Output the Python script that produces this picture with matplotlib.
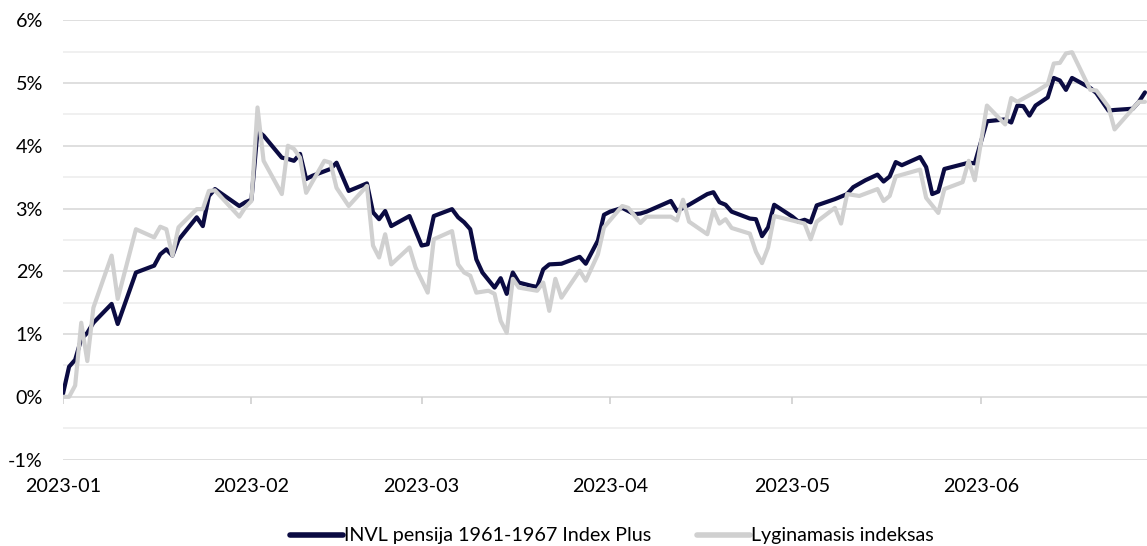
import matplotlib
matplotlib.use("Agg")
import matplotlib.pyplot as plt
import pandas as pd
from matplotlib.ticker import MultipleLocator, FuncFormatter

# ---- data (cumulative return, %) ----
fund_dates = [
    "2023-01-01", "2023-01-02", "2023-01-03", "2023-01-04", "2023-01-05", "2023-01-06",
    "2023-01-09", "2023-01-10", "2023-01-13", "2023-01-16", "2023-01-17", "2023-01-18",
    "2023-01-19", "2023-01-20", "2023-01-23", "2023-01-24", "2023-01-25", "2023-01-26",
    "2023-01-30", "2023-01-31", "2023-02-01", "2023-02-02", "2023-02-03", "2023-02-06",
    "2023-02-07", "2023-02-08", "2023-02-09", "2023-02-10", "2023-02-11", "2023-02-14",
    "2023-02-15", "2023-02-17", "2023-02-20", "2023-02-21", "2023-02-22", "2023-02-23",
    "2023-02-24", "2023-02-27", "2023-03-01", "2023-03-02", "2023-03-03", "2023-03-06",
    "2023-03-07", "2023-03-08", "2023-03-09", "2023-03-10", "2023-03-11", "2023-03-13",
    "2023-03-14", "2023-03-15", "2023-03-16", "2023-03-17", "2023-03-19", "2023-03-20",
    "2023-03-21", "2023-03-22", "2023-03-24", "2023-03-27", "2023-03-28", "2023-03-30",
    "2023-03-31", "2023-04-01", "2023-04-03", "2023-04-05", "2023-04-06", "2023-04-07",
    "2023-04-11", "2023-04-12", "2023-04-14", "2023-04-17", "2023-04-18", "2023-04-19",
    "2023-04-20", "2023-04-21", "2023-04-24", "2023-04-25", "2023-04-26", "2023-04-27",
    "2023-04-28", "2023-05-01", "2023-05-02", "2023-05-03", "2023-05-04", "2023-05-05",
    "2023-05-08", "2023-05-10", "2023-05-11", "2023-05-13", "2023-05-15", "2023-05-16",
    "2023-05-17", "2023-05-18", "2023-05-19", "2023-05-22", "2023-05-23", "2023-05-24",
    "2023-05-25", "2023-05-26", "2023-05-30", "2023-05-31", "2023-06-02", "2023-06-05",
    "2023-06-06", "2023-06-07", "2023-06-08", "2023-06-09", "2023-06-10", "2023-06-12",
    "2023-06-13", "2023-06-14", "2023-06-15", "2023-06-16", "2023-06-19", "2023-06-20",
    "2023-06-22", "2023-06-23", "2023-06-26", "2023-06-27", "2023-06-28",
]
fund_values = [
    0.05, 0.48, 0.59, 0.92, 1.02, 1.18,
    1.48, 1.16, 1.98, 2.09, 2.27, 2.35,
    2.25, 2.50, 2.86, 2.72, 3.20, 3.31,
    3.04, 3.10, 3.14, 4.24, 4.16, 3.81,
    3.79, 3.76, 3.87, 3.47, 3.52, 3.63,
    3.73, 3.28, 3.40, 2.94, 2.83, 2.96,
    2.72, 2.88, 2.41, 2.43, 2.88, 2.99,
    2.86, 2.78, 2.67, 2.19, 1.98, 1.74,
    1.89, 1.64, 1.98, 1.82, 1.77, 1.75,
    2.03, 2.11, 2.12, 2.23, 2.12, 2.49,
    2.90, 2.95, 3.01, 2.91, 2.92, 2.95,
    3.12, 2.96, 3.06, 3.23, 3.26, 3.10,
    3.06, 2.95, 2.84, 2.83, 2.56, 2.70,
    3.06, 2.87, 2.79, 2.82, 2.78, 3.05,
    3.15, 3.23, 3.34, 3.45, 3.54, 3.43,
    3.51, 3.74, 3.69, 3.82, 3.66, 3.23,
    3.27, 3.63, 3.73, 3.72, 4.39, 4.42,
    4.37, 4.64, 4.63, 4.48, 4.64, 4.77,
    5.08, 5.04, 4.89, 5.08, 4.92, 4.84,
    4.56, 4.57, 4.59, 4.70, 4.85,
]

index_dates = [
    "2023-01-01", "2023-01-02", "2023-01-03", "2023-01-04", "2023-01-05", "2023-01-06",
    "2023-01-09", "2023-01-10", "2023-01-13", "2023-01-16", "2023-01-17", "2023-01-18",
    "2023-01-19", "2023-01-20", "2023-01-23", "2023-01-24", "2023-01-25", "2023-01-26",
    "2023-01-30", "2023-01-31", "2023-02-01", "2023-02-02", "2023-02-03", "2023-02-06",
    "2023-02-07", "2023-02-08", "2023-02-09", "2023-02-10", "2023-02-13", "2023-02-14",
    "2023-02-15", "2023-02-17", "2023-02-20", "2023-02-21", "2023-02-22", "2023-02-23",
    "2023-02-24", "2023-02-27", "2023-02-28", "2023-03-02", "2023-03-03", "2023-03-06",
    "2023-03-07", "2023-03-08", "2023-03-09", "2023-03-10", "2023-03-12", "2023-03-13",
    "2023-03-14", "2023-03-15", "2023-03-16", "2023-03-17", "2023-03-20", "2023-03-21",
    "2023-03-22", "2023-03-23", "2023-03-24", "2023-03-27", "2023-03-28", "2023-03-30",
    "2023-03-31", "2023-04-03", "2023-04-04", "2023-04-06", "2023-04-07", "2023-04-11",
    "2023-04-12", "2023-04-13", "2023-04-14", "2023-04-17", "2023-04-18", "2023-04-19",
    "2023-04-20", "2023-04-21", "2023-04-24", "2023-04-25", "2023-04-26", "2023-04-27",
    "2023-04-28", "2023-05-01", "2023-05-03", "2023-05-04", "2023-05-05", "2023-05-08",
    "2023-05-09", "2023-05-10", "2023-05-12", "2023-05-15", "2023-05-16", "2023-05-17",
    "2023-05-18", "2023-05-22", "2023-05-23", "2023-05-25", "2023-05-26", "2023-05-29",
    "2023-05-30", "2023-05-31", "2023-06-02", "2023-06-05", "2023-06-06", "2023-06-07",
    "2023-06-10", "2023-06-12", "2023-06-13", "2023-06-14", "2023-06-15", "2023-06-16",
    "2023-06-19", "2023-06-20", "2023-06-22", "2023-06-23", "2023-06-27", "2023-06-28",
]
index_values = [
    0.00, 0.00, 0.18, 1.18, 0.57, 1.42,
    2.25, 1.56, 2.67, 2.54, 2.71, 2.67,
    2.25, 2.70, 2.99, 2.99, 3.28, 3.29,
    2.87, 3.02, 3.12, 4.61, 3.76, 3.23,
    4.00, 3.95, 3.81, 3.25, 3.76, 3.73,
    3.33, 3.04, 3.36, 2.41, 2.22, 2.59,
    2.11, 2.38, 2.06, 1.66, 2.51, 2.64,
    2.11, 1.98, 1.93, 1.66, 1.69, 1.64,
    1.21, 1.02, 1.88, 1.74, 1.69, 1.82,
    1.37, 1.88, 1.58, 2.01, 1.85, 2.27,
    2.70, 3.04, 3.01, 2.77, 2.87, 2.87,
    2.81, 3.14, 2.79, 2.59, 2.98, 2.76,
    2.83, 2.69, 2.60, 2.31, 2.13, 2.38,
    2.88, 2.81, 2.76, 2.51, 2.79, 3.01,
    2.76, 3.23, 3.20, 3.31, 3.12, 3.20,
    3.51, 3.62, 3.17, 2.93, 3.31, 3.42,
    3.76, 3.45, 4.64, 4.34, 4.76, 4.70,
    4.86, 4.98, 5.31, 5.32, 5.47, 5.49,
    4.89, 4.88, 4.62, 4.26, 4.70, 4.70,
]

series_labels = ["INVL pensija 1961-1967 Index Plus", "Lyginamasis indeksas"]
month_ticks = ["2023-01-01", "2023-02-01", "2023-03-01", "2023-04-01", "2023-05-01", "2023-06-01"]

# ---- styling ----
DARK = "#0b0b42"
GREY = "#d0d0d0"
FONT = ["Lato", "DejaVu Sans"]
FS = 14.2
plt.rcParams["font.family"] = FONT

fig = plt.figure(figsize=(11.47, 5.46), dpi=100)
ax = fig.add_axes([63 / 1147, (546 - 459.6) / 546, 1 - 63 / 1147, (459.6 - 20.2) / 546])

fd = pd.to_datetime(fund_dates)
idd = pd.to_datetime(index_dates)

ax.plot(fd, fund_values, color=DARK, lw=3.0, solid_joinstyle="round",
        solid_capstyle="round", label=series_labels[0], zorder=3)
ax.plot(idd, index_values, color=GREY, lw=3.0, solid_joinstyle="round",
        solid_capstyle="round", label=series_labels[1], zorder=4)

ax.set_ylim(-1, 6)
ax.set_xlim(pd.Timestamp("2023-01-01"), pd.Timestamp("2023-06-28 08:00"))

ax.yaxis.set_major_locator(MultipleLocator(1))
ax.yaxis.set_minor_locator(MultipleLocator(0.5))
ax.yaxis.set_major_formatter(FuncFormatter(lambda v, p: f"{v:.0f}%"))
ax.grid(which="major", axis="y", color="#d9d9d9", lw=1.2, zorder=0)
ax.grid(which="minor", axis="y", color="#eeeeee", lw=1.2, zorder=0)
ax.set_axisbelow(True)

mt = pd.to_datetime(month_ticks)
ax.set_xticks(mt)
ax.set_xticklabels([d.strftime("%Y-%m") for d in mt])

# Excel-style small month tick marks at the 0% line
ax.vlines(mt, -0.12, 0, color="#d0d0d0", lw=1.2, zorder=1)

for s in ax.spines.values():
    s.set_visible(False)
ax.tick_params(axis="both", which="both", length=0, labelsize=FS, colors="#000000")
ax.tick_params(axis="y", pad=14.5)
ax.tick_params(axis="x", pad=13)

leg = fig.legend(loc="center", bbox_to_anchor=(612 / 1147, 1 - 536 / 546), ncol=2,
                 frameon=False, fontsize=FS, handlelength=2.7, handletextpad=0.05,
                 columnspacing=2.3)
for line in leg.get_lines():
    line.set_linewidth(4.0)
    line.set_solid_capstyle("round")

fig.savefig("out.png", dpi=100)
